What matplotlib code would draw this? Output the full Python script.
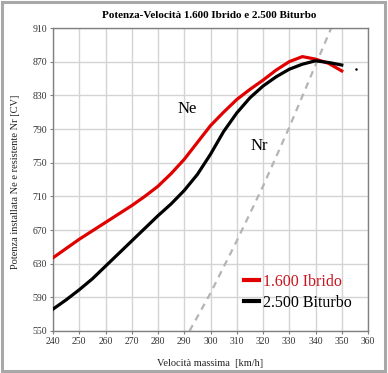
import matplotlib
matplotlib.use("Agg")
import matplotlib.pyplot as plt
from matplotlib.patches import Rectangle

speed = [240, 245, 250, 255, 260, 265, 270, 275, 280, 285, 290, 295, 300,
         305, 310, 315, 320, 325, 330, 335, 340, 345, 350]
ibrido = [637, 648, 659, 669, 679, 689, 699, 710, 722, 737, 754, 774, 794,
          810, 825, 837, 848, 860, 870, 876, 873, 868, 859]
biturbo = [576, 587, 599, 612, 627, 642, 657, 672, 687, 701, 717, 736, 760,
           787, 809, 827, 841, 852, 861, 867, 871, 869, 866]
speed_nr = [292, 300, 310, 320, 330, 340, 346]
nr = [550, 595, 657, 722, 792, 866, 910]

xticks = list(range(240, 361, 10))
yticks = list(range(550, 911, 40))

serif = ["Liberation Serif", "DejaVu Serif"]

fig = plt.figure(figsize=(3.88, 3.73), dpi=100)
fig.patch.set_facecolor("white")
fig.add_artist(Rectangle((1.5/388, 2.5/373), 383.5/388, 369/373, transform=fig.transFigure,
                         fill=False, edgecolor="#a8a8a8", linewidth=2.2))

ax = fig.add_axes([53/388, 1-331/373, 315/388, 303/373])
ax.plot(speed_nr, nr, color="#b4b4b4", linewidth=1.6, dashes=(3, 2.5), zorder=2)
ax.plot(speed, ibrido, color="#e00000", linewidth=2.3, label="1.600 Ibrido", zorder=3)
ax.plot(speed, biturbo, color="black", linewidth=2.3, label="2.500 Biturbo", zorder=3)
ax.plot([355.3], [861], marker="o", markersize=0.8, color="black", linestyle="none")

ax.set_xlim(240, 360)
ax.set_ylim(550, 910)
ax.set_xticks(xticks)
ax.set_yticks(yticks)
ax.grid(True, color="#d4d4d4", linewidth=1.0)
ax.set_axisbelow(True)
for s in ax.spines.values():
    s.set_color("#808080")
    s.set_linewidth(1.0)
ax.tick_params(length=2, width=0.8, color="#808080", labelsize=7, pad=2, labelcolor="#333333")
for lab in ax.get_xticklabels() + ax.get_yticklabels():
    lab.set_family(serif)

ax.text(291, 814, "Ne", fontsize=12, family=serif, ha="center", va="center")
ax.text(318.5, 770, "Nr", fontsize=12, family=serif, ha="center", va="center")

leg = ax.legend(loc="lower right", bbox_to_anchor=(0.995, 0.02), frameon=False,
                prop={"family": serif, "size": 11.5}, handlelength=0.9,
                handletextpad=0.3, labelspacing=0.3)
leg.get_texts()[0].set_color("#c8141e")
for h in leg.get_lines():
    h.set_linewidth(3.0)

fig.text(209/388, 1-16/373, "Potenza-Velocità 1.600 Ibrido e 2.500 Biturbo",
         fontsize=8, fontweight="bold", family=serif, ha="center", va="center")
fig.text(210/388, 1-363/373, "Velocità massima  [km/h]", fontsize=7.5,
         family=serif, ha="center", va="center", color="#222222")
fig.text(16/388, 1-182/373, "Potenza installata Ne e resistente Nr [CV]", fontsize=7.5,
         family=serif, ha="center", va="center", rotation=90, color="#222222")

fig.savefig("out.png", dpi=100)
